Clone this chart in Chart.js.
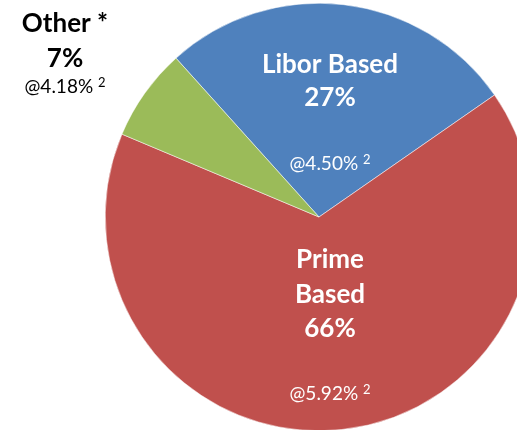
<!DOCTYPE html>
<html>
<head>
<meta charset="utf-8">
<script src="https://cdn.jsdelivr.net/npm/chart.js@4/dist/chart.umd.min.js"></script>
<style>
  html, body { margin: 0; padding: 0; background: #fff; }
  #wrap { width: 517px; height: 430px; overflow: hidden; position: relative; }
  #box { position: absolute; left: 0; top: 0; width: 638px; height: 434px; }
</style>
</head>
<body>
<div id="wrap"><div id="box"><canvas id="pie"></canvas></div></div>
<script>
// loan mix by rate basis
var categories = ["Libor Based", "Prime Based", "Other *"];
var shares = [27, 66, 7];
var rates = ["@4.50%", "@5.92%", "@4.18%"];
var colors = ["#4F81BD", "#C0504D", "#9BBB59"];

var FONT = "Lato, 'Open Sans', sans-serif";

// text for each slice: bold title lines, then rate with superscript 2
var labelPlugin = {
  id: "sliceLabels",
  afterDatasetsDraw: function (chart) {
    var ctx = chart.ctx;
    var arc = chart.getDatasetMeta(0).data[0];
    var cx = arc.x, cy = arc.y;
    // offsets from pie centre: dx, baselines of bold lines, baseline of rate
    var layouts = [
      { dx: 11, lines: [-144, -111], rateY: -47, color: "#fff" },
      { dx: 11, lines: [51, 86, 120], rateY: 183, color: "#fff" },
      { dx: -254, lines: [-185, -150], rateY: -124, color: "#000" }
    ];
    var titles = [
      [categories[0], shares[0] + "%"],
      ["Prime", "Based", shares[1] + "%"],
      [categories[2], shares[2] + "%"]
    ];
    ctx.save();
    ctx.textBaseline = "alphabetic";
    layouts.forEach(function (l, i) {
      var x = cx + l.dx;
      ctx.fillStyle = l.color;
      ctx.textAlign = "center";
      ctx.font = "bold 26px " + FONT;
      titles[i].forEach(function (t, j) {
        ctx.fillText(t, x, cy + l.lines[j]);
      });
      // rate + superscript
      ctx.font = "19px " + FONT;
      var main = rates[i] + " ";
      var w1 = ctx.measureText(main).width;
      ctx.font = "13px " + FONT;
      var w2 = ctx.measureText("2").width;
      var start = x - (w1 + w2) / 2;
      ctx.textAlign = "left";
      ctx.font = "19px " + FONT;
      ctx.fillText(main, start, cy + l.rateY);
      ctx.font = "13px " + FONT;
      ctx.fillText("2", start + w1, cy + l.rateY - 6);
    });
    ctx.restore();
  }
};

new Chart(document.getElementById("pie"), {
  type: "pie",
  data: {
    labels: categories,
    datasets: [{
      data: shares,
      backgroundColor: colors,
      borderWidth: 0.5,
      borderColor: "#fff"
    }]
  },
  options: {
    responsive: true,
    maintainAspectRatio: false,
    animation: false,
    rotation: -42,
    layout: { padding: 3 },
    plugins: {
      legend: { display: false },
      tooltip: { enabled: false }
    }
  },
  plugins: [labelPlugin]
});
</script>
</body>
</html>
